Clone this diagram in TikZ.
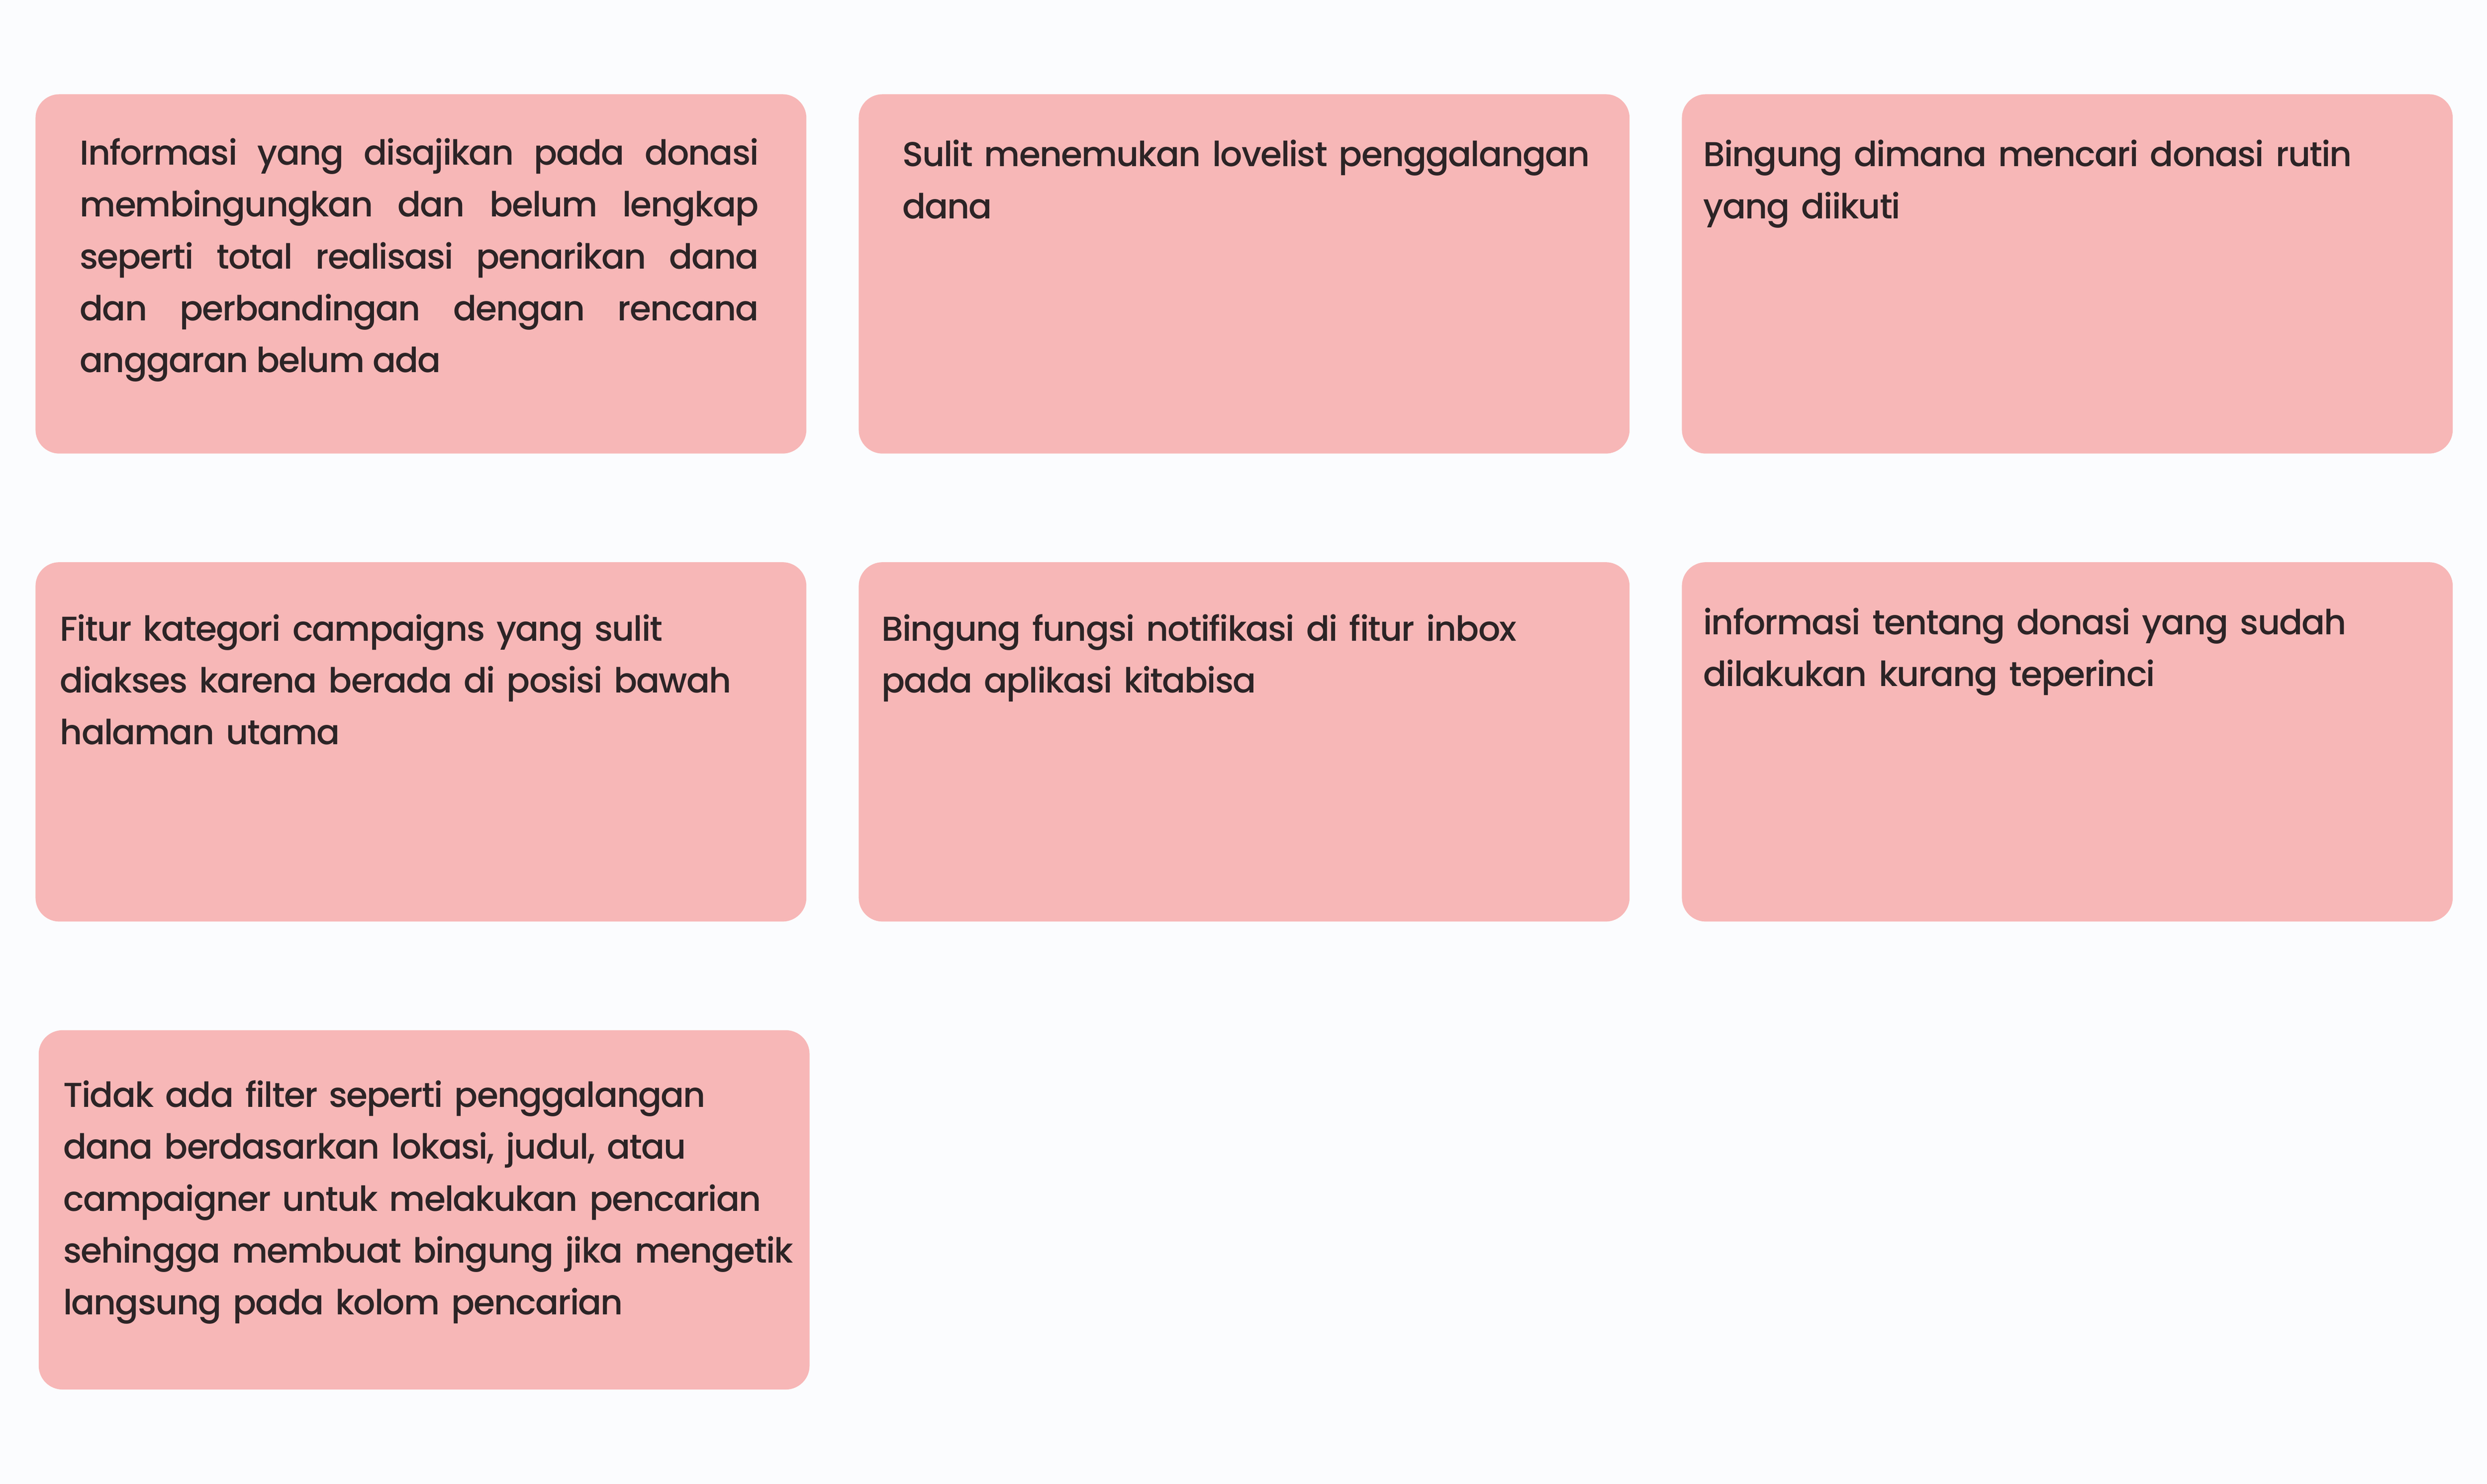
\documentclass[tikz,border=0pt]{standalone}
\usepackage{fontspec}
\IfFontExistsTF{Poppins Medium}{\setmainfont[LetterSpace=-2.8]{Poppins Medium}}{\setmainfont[LetterSpace=-2.8]{Poppins}}
\definecolor{bg}{HTML}{FBFCFE}
\definecolor{cardfill}{HTML}{F7B7B7}
\definecolor{ink}{HTML}{2C2426}
\begin{document}
\begin{tikzpicture}[x=0.5pt,y=-0.5pt,
  card/.style={fill=cardfill, draw=none, rounded corners=7.5pt, anchor=north west,
    minimum width=243pt, minimum height=113.25pt, inner sep=0pt},
  txt/.style={anchor=base west, inner sep=0pt, text=ink,
    font=\fontsize{10.89pt}{16.335pt}\selectfont, text width=240pt, align=left},
  jtxt/.style={txt, text width=214pt, align=justify}]
\useasboundingbox[fill=bg] (0,0) rectangle (1568,935.35);
% cards
\node[card] (c1) at (22,59) {};
\node[card] (c2) at (541,59) {};
\node[card] (c3) at (1060,59) {};
\node[card] (c4) at (22,354) {};
\node[card] (c5) at (541,354) {};
\node[card] (c6) at (1060,354) {};
\node[card] (c7) at (24,649) {};
% texts
\node[jtxt] (t1) at (50,104) {\hyphenpenalty=10000 Informasi yang disajikan pada donasi\linebreak membingungkan dan belum lengkap\linebreak seperti total realisasi penarikan dana\linebreak dan perbandingan dengan rencana\linebreak anggaran belum ada};
\node[txt] (t2) at (568.5,105) {Sulit menemukan lovelist penggalangan\\dana};
\node[txt] (t3) at (1073.5,105) {Bingung dimana mencari donasi rutin\\yang diikuti};
\node[txt] (t4) at (37.5,404) {Fitur kategori campaigns yang sulit\\diakses karena berada di posisi bawah\\halaman utama};
\node[txt] (t5) at (555.5,404) {Bingung fungsi notifikasi di fitur inbox\\pada aplikasi kitabisa};
\node[txt] (t6) at (1073.5,400) {informasi tentang donasi yang sudah\\dilakukan kurang teperinci};
\node[txt] (t7) at (39.5,698) {Tidak ada filter seperti penggalangan\\dana berdasarkan lokasi, judul, atau\\campaigner untuk melakukan pencarian\\sehingga membuat bingung jika mengetik\\langsung pada kolom pencarian};
\end{tikzpicture}
\end{document}
